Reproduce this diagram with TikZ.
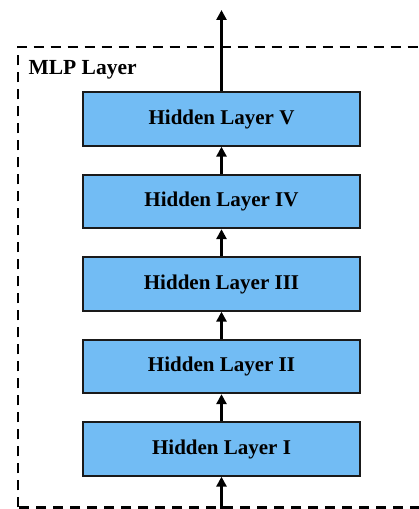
\documentclass[tikz,border=0pt]{standalone}
\usepackage{fontspec}
\setmainfont{Liberation Serif}
\usetikzlibrary{positioning,arrows.meta}
\definecolor{LayerBlue}{HTML}{72BCF4}
\definecolor{EdgeGray}{HTML}{1A1A1A}

\begin{document}
\begin{tikzpicture}[x=1pt,y=1pt,node distance=27.2pt,
  layer/.style={draw=EdgeGray,line width=1.8pt,fill=LayerBlue,minimum width=277pt,minimum height=53.5pt,
    font=\fontsize{21}{25}\selectfont\bfseries},
  flow/.style={-{Triangle[length=10pt,width=10pt]},line width=3pt}]
  \useasboundingbox (0,0) rectangle (419,509);
  \clip (0,0) rectangle (419,509);

  % enclosing block
  \draw[line width=2.6pt,dash pattern=on 10pt off 7pt] (18,1.5) rectangle (430,462);
  \node[anchor=west,font=\fontsize{21.5}{25}\selectfont\bfseries] (mlp) at (25,439) {MLP Layer};

  % stack of hidden layers
  \node[layer] (h1) at (221.5,60) {Hidden Layer I};
  \node[layer,above=of h1] (h2) {Hidden Layer II};
  \node[layer,above=of h2] (h3) {Hidden Layer III};
  \node[layer,above=of h3] (h4) {Hidden Layer IV};
  \node[layer,above=of h4] (h5) {Hidden Layer V};

  \coordinate (in) at (221.5,-2);
  \coordinate (out) at (221.5,499);

  \draw[flow] (in) -- (h1);
  \draw[flow] (h1) -- (h2);
  \draw[flow] (h2) -- (h3);
  \draw[flow] (h3) -- (h4);
  \draw[flow] (h4) -- (h5);
  \draw[flow] (h5) -- (out);
\end{tikzpicture}
\end{document}
